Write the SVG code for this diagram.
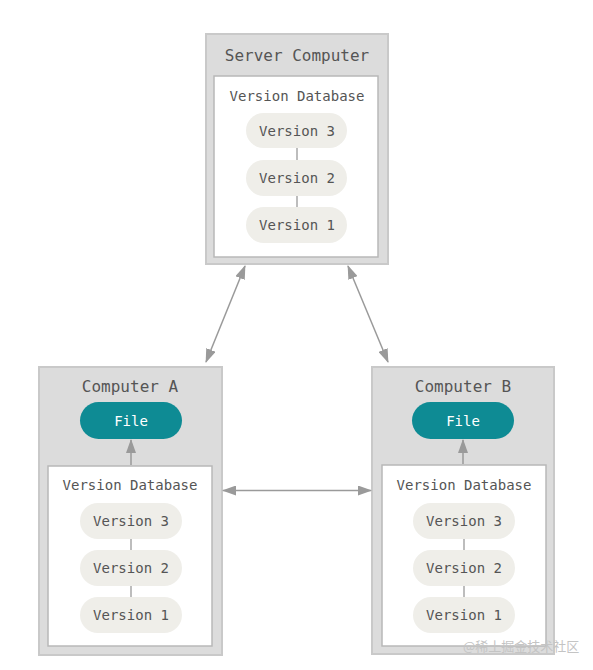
<svg xmlns="http://www.w3.org/2000/svg" width="593" height="670" viewBox="0 0 593 670">
<style>
.outer{fill:#dcdcdc;stroke:#c9c9c9;stroke-width:2}
.inner{fill:#ffffff;stroke:#b8b8b8;stroke-width:1.5}
.pill{fill:#efeee9}
.file{fill:#0e8b94}
.t{font-family:"DejaVu Sans Mono","Liberation Mono",monospace;fill:#555555;text-anchor:middle;dominant-baseline:central}
.title{font-size:16px}
.lbl{font-size:14px}
.ft{font-size:14px;fill:#ffffff}
.link{stroke:#9a9a9a;stroke-width:1.3;fill:none}
.arr{stroke:#9a9a9a;stroke-width:1.5;fill:none}
.wm{font-family:"Noto Sans CJK SC","Liberation Sans",sans-serif;font-size:13px;fill:#c4c4c4;dominant-baseline:central}
</style>
<defs>
<marker id="ah" viewBox="0 0 14 10" refX="13" refY="5" markerWidth="14" markerHeight="10" markerUnits="userSpaceOnUse" orient="auto-start-reverse">
<path d="M0,0 L14,5 L0,10 z" fill="#9a9a9a"/>
</marker>
</defs>
<rect width="593" height="670" fill="#ffffff"/>

<g id="server">
<rect class="outer" x="206" y="34" width="182" height="230"/>
<rect class="inner" x="214" y="76" width="164" height="181"/>
<text class="t title" x="297" y="55">Server Computer</text>
<text class="t lbl" x="297" y="96">Version Database</text>
<line class="link" x1="297" y1="148" x2="297" y2="160"/>
<line class="link" x1="297" y1="196" x2="297" y2="207"/>
<rect class="pill" x="246" y="113" width="101" height="35" rx="17.5"/>
<text class="t lbl" x="297" y="130.5">Version 3</text>
<rect class="pill" x="246" y="160" width="101" height="36" rx="18"/>
<text class="t lbl" x="297" y="178">Version 2</text>
<rect class="pill" x="246" y="207" width="101" height="36" rx="18"/>
<text class="t lbl" x="297" y="225">Version 1</text>
</g>

<g id="computerA">
<rect class="outer" x="39" y="367" width="183" height="288"/>
<rect class="inner" x="48" y="466" width="164" height="180"/>
<text class="t title" x="130" y="386">Computer A</text>
<rect class="file" x="80" y="402" width="102" height="37" rx="18.5"/>
<text class="t ft" x="131" y="420.5">File</text>
<text class="t lbl" x="130" y="485">Version Database</text>
<line class="link" x1="131" y1="539" x2="131" y2="550"/>
<line class="link" x1="131" y1="586" x2="131" y2="597"/>
<rect class="pill" x="80" y="503" width="102" height="36" rx="18"/>
<text class="t lbl" x="131" y="521">Version 3</text>
<rect class="pill" x="80" y="550" width="102" height="36" rx="18"/>
<text class="t lbl" x="131" y="568">Version 2</text>
<rect class="pill" x="80" y="597" width="102" height="36" rx="18"/>
<text class="t lbl" x="131" y="615">Version 1</text>
</g>

<g id="computerB">
<rect class="outer" x="372" y="367" width="182" height="287"/>
<rect class="inner" x="382" y="465" width="164" height="181"/>
<text class="t title" x="463" y="386">Computer B</text>
<rect class="file" x="412" y="402" width="102" height="37" rx="18.5"/>
<text class="t ft" x="463" y="420.5">File</text>
<text class="t lbl" x="464" y="485">Version Database</text>
<line class="link" x1="464" y1="539" x2="464" y2="550"/>
<line class="link" x1="464" y1="586" x2="464" y2="597"/>
<rect class="pill" x="413" y="503" width="102" height="36" rx="18"/>
<text class="t lbl" x="464" y="521">Version 3</text>
<rect class="pill" x="413" y="550" width="102" height="36" rx="18"/>
<text class="t lbl" x="464" y="568">Version 2</text>
<rect class="pill" x="413" y="597" width="102" height="36" rx="18"/>
<text class="t lbl" x="464" y="615">Version 1</text>
</g>

<g id="connectors">
<line class="arr" x1="245" y1="266" x2="206" y2="362" marker-start="url(#ah)" marker-end="url(#ah)"/>
<line class="arr" x1="348" y1="266" x2="388" y2="362" marker-start="url(#ah)" marker-end="url(#ah)"/>
<line class="arr" x1="223" y1="490.5" x2="371" y2="490.5" marker-start="url(#ah)" marker-end="url(#ah)"/>
<line class="arr" x1="131" y1="465" x2="131" y2="440" marker-end="url(#ah)"/>
<line class="arr" x1="463" y1="464" x2="463" y2="440" marker-end="url(#ah)"/>
</g>

<text class="wm" x="463" y="645">@稀土掘金技术社区</text>
</svg>
